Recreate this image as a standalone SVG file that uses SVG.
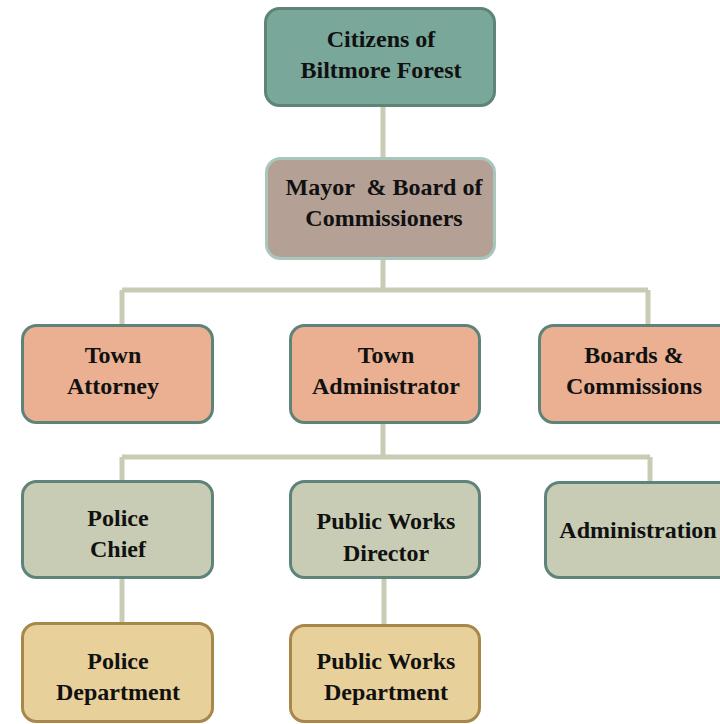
<svg xmlns="http://www.w3.org/2000/svg" width="720" height="724" viewBox="0 0 720 724">
<style>
.b{stroke-width:3}
.teal{fill:#79a89b;stroke:#5e8479}
.mayor{fill:#b4a095;stroke:#a9c6bd}
.org{fill:#eab091;stroke:#5e8479}
.sage{fill:#c9ccb4;stroke:#5e8479}
.tan{fill:#e8d09b;stroke:#a8874a}
text{font-family:"Liberation Serif","Times New Roman",serif;font-weight:bold;font-size:24px;fill:#111;text-anchor:middle}
.c{fill:none;stroke:#c9ccb4;stroke-width:5}
</style>
<rect width="720" height="724" fill="#fff"/>
<g id="connectors">
<path class="c" d="M383 105V158M383 259V290M122 290H648M122 290V325M648 290V325M383 423V457M122 457H650M122 457V481M650 457V482M122 578V623M384 578V625"/>
</g>
<g id="citizens"><rect class="b teal" x="265.5" y="8.5" width="229" height="97" rx="14"/><text x="381" y="47">Citizens of</text><text x="381" y="78">Biltmore Forest</text></g>
<g id="mayor"><rect class="b mayor" x="266.5" y="158.5" width="228" height="100" rx="14"/><text x="384" y="195" xml:space="preserve">Mayor  &amp; Board of</text><text x="384" y="226">Commissioners</text></g>
<g id="attorney"><rect class="b org" x="22.5" y="325.5" width="190" height="97" rx="14"/><text x="113" y="363">Town</text><text x="113" y="394">Attorney</text></g>
<g id="administrator"><rect class="b org" x="290.5" y="325.5" width="189" height="97" rx="14"/><text x="386" y="363">Town</text><text x="386" y="394">Administrator</text></g>
<g id="boards"><rect class="b org" x="539.5" y="325.5" width="200" height="97" rx="14"/><text x="634" y="363">Boards &amp;</text><text x="634" y="394">Commissions</text></g>
<g id="police-chief"><rect class="b sage" x="22.5" y="481.5" width="190" height="96" rx="14"/><text x="118" y="526">Police</text><text x="118" y="557">Chief</text></g>
<g id="pw-director"><rect class="b sage" x="290.5" y="481.5" width="189" height="96" rx="14"/><text x="386" y="529">Public Works</text><text x="386" y="561">Director</text></g>
<g id="administration"><rect class="b sage" x="545.5" y="482.5" width="200" height="95" rx="14"/><text x="638" y="538">Administration</text></g>
<g id="police-dept"><rect class="b tan" x="22.5" y="623.5" width="190" height="98" rx="14"/><text x="118" y="669">Police</text><text x="118" y="700">Department</text></g>
<g id="pw-dept"><rect class="b tan" x="290.5" y="625.5" width="189" height="96" rx="14"/><text x="386" y="669">Public Works</text><text x="386" y="700">Department</text></g>
</svg>
